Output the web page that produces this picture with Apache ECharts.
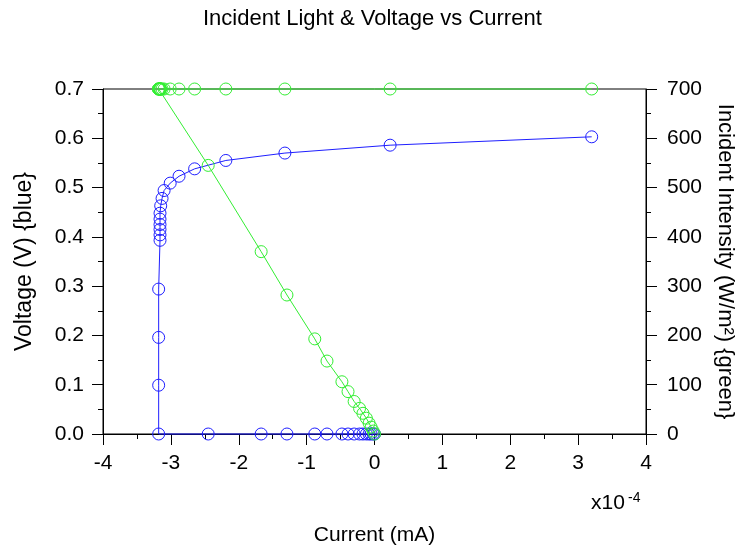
<!DOCTYPE html>
<html>
<head>
<meta charset="utf-8">
<title>Incident Light & Voltage vs Current</title>
<script src="https://cdn.jsdelivr.net/npm/echarts@6/dist/echarts.min.js"></script>
<style>
  html, body { margin: 0; padding: 0; background: #fff; }
  #chart { width: 740px; height: 557px; }
</style>
</head>
<body>
<div id="chart"></div>
<script>
'use strict';
// current in units of 1e-4 mA; first block is the V sweep at 700 W/m2, second block the short-circuit points
var current   = [3.20, 0.23, -1.32, -2.19, -2.65, -2.88, -3.01, -3.10, -3.13, -3.15,
                 -3.16, -3.16, -3.16, -3.16, -3.16, -3.16, -3.18, -3.18, -3.18, -3.18,
                 -2.45, -1.67, -1.29, -0.88, -0.70, -0.48, -0.39, -0.30, -0.22, -0.17,
                 -0.12, -0.08, -0.05, -0.02, 0.0];
var voltage   = [0.603, 0.586, 0.570, 0.555, 0.538, 0.523, 0.509, 0.494, 0.478, 0.463,
                 0.448, 0.436, 0.425, 0.415, 0.404, 0.393, 0.294, 0.196, 0.099, 0.0,
                 0, 0, 0, 0, 0, 0, 0, 0, 0, 0,
                 0, 0, 0, 0, 0];
var intensity = [700, 700, 700, 700, 700, 700, 700, 700, 700, 700,
                 700, 700, 700, 700, 700, 700, 700, 700, 700, 700,
                 545, 370, 282, 193, 148, 106, 86, 66, 52, 42,
                 32, 22, 14, 6, 0];
var xTicks = [-4, -3, -2, -1, 0, 1, 2, 3, 4];

var FONT = 'Liberation Sans, Arial, sans-serif';
var INK = '#000';
var BLUE = '#1f1fff';
var GREEN = '#33ee33';

function pairs(xs, ys){
  var out = [];
  for (var i = 0; i < xs.length; i++) {
    out.push([xs[i], ys[i]]);
  }
  return out;
}

function axisBase(){
  return {
    axisLine: { show: true, onZero: false, lineStyle: { color: INK, width: 1 } },
    axisTick: { show: true, inside: false, length: 11, lineStyle: { color: INK } },
    minorTick: { show: true, splitNumber: 2, length: 5, lineStyle: { color: INK } },
    splitLine: { show: false },
    minorSplitLine: { show: false },
    axisLabel: { color: INK, fontSize: 21, fontFamily: FONT, margin: 19 },
    nameTextStyle: { color: INK, fontSize: 23, fontFamily: FONT }
  };
}

function lineSeries(name, axisIdx, ys, col){
  return {
    name: name,
    type: 'line',
    yAxisIndex: axisIdx,
    data: pairs(current, ys),
    symbol: 'circle',
    symbolSize: 12,
    showAllSymbol: true,
    clip: false,
    lineStyle: { color: col, width: 1 },
    itemStyle: { color: 'rgba(0,0,0,0)', borderColor: col, borderWidth: 1 },
    emphasis: { disabled: true }
  };
}

var xAxis = axisBase();
xAxis.type = 'value';
xAxis.min = xTicks[0];
xAxis.max = xTicks[xTicks.length - 1];
xAxis.interval = 1;
xAxis.name = 'Current (mA)';
xAxis.nameLocation = 'middle';
xAxis.nameGap = 91;
xAxis.nameTextStyle.fontSize = 21;

var yLeft = axisBase();
yLeft.type = 'value';
yLeft.min = 0;
yLeft.max = 0.7;
yLeft.interval = 0.1;
yLeft.axisLabel.formatter = function (v){ return v.toFixed(1); };
yLeft.name = 'Voltage (V) {blue}';
yLeft.nameLocation = 'middle';
yLeft.nameGap = 67;
yLeft.nameRotate = 90;

var yRight = axisBase();
yRight.type = 'value';
yRight.position = 'right';
yRight.min = 0;
yRight.max = 700;
yRight.interval = 100;
yRight.axisLabel.margin = 21;
yRight.name = 'Incident Intensity (W/m\u00b2) {green}';
yRight.nameLocation = 'middle';
yRight.nameGap = 68;
yRight.nameRotate = -90;
yRight.nameTextStyle.fontSize = 22;

var chart = echarts.init(document.getElementById('chart'), null, { renderer: 'canvas' });
chart.setOption({
  animation: false,
  backgroundColor: '#fff',
  title: {
    text: 'Incident Light & Voltage vs Current',
    left: 203,
    top: 8,
    padding: 0,
    textStyle: { color: INK, fontSize: 22, fontWeight: 'normal', fontFamily: FONT }
  },
  grid: {
    left: 103, right: 94, top: 89, bottom: 123,
    outerBoundsMode: 'none',
    containLabel: false,
    show: true, borderColor: INK, borderWidth: 1, backgroundColor: 'transparent'
  },
  xAxis: xAxis,
  yAxis: [yLeft, yRight],
  graphic: [
    { type: 'text', left: 591, top: 493,
      style: { text: 'x10', fill: INK, font: '21px ' + FONT } },
    { type: 'text', left: 628, top: 491,
      style: { text: '-4', fill: INK, font: '14px ' + FONT } }
  ],
  series: [
    lineSeries('Voltage', 0, voltage, BLUE),
    lineSeries('Intensity', 1, intensity, GREEN)
  ]
});
</script>
</body>
</html>
